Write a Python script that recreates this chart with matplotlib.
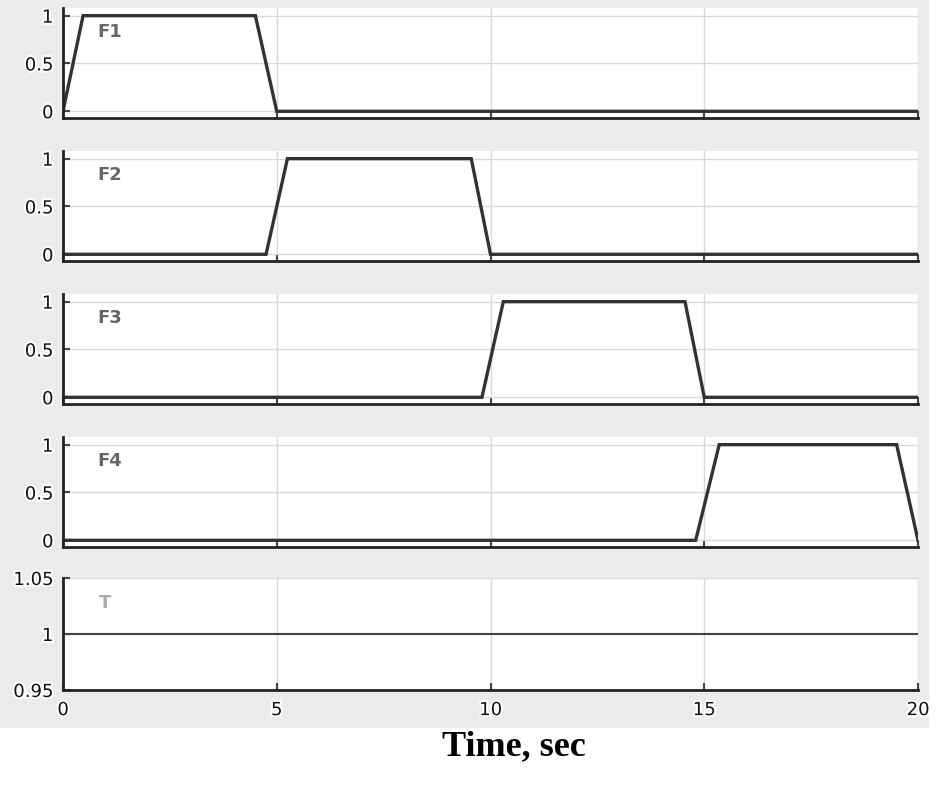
import matplotlib.pyplot as plt
import matplotlib.patheffects as pe
from matplotlib.patches import Rectangle

# signal data
t_f1 = [0, 0.47, 4.5, 5.0, 20]
f1 = [0, 1, 1, 0, 0]
t_f2 = [0, 4.75, 5.25, 9.55, 10.0, 20]
f2 = [0, 0, 1, 1, 0, 0]
t_f3 = [0, 9.8, 10.3, 14.55, 15.0, 20]
f3 = [0, 0, 1, 1, 0, 0]
t_f4 = [0, 14.8, 15.35, 19.5, 20]
f4 = [0, 0, 1, 1, 0]
t_T = [0, 20]
T = [1, 1]

names = ['F1', 'F2', 'F3', 'F4', 'T']
times = [t_f1, t_f2, t_f3, t_f4, t_T]
values = [f1, f2, f3, f4, T]
xticks = [0, 5, 10, 15, 20]

W, H = 939, 785
fig = plt.figure(figsize=(W / 100, H / 100), dpi=100)
fig.patch.set_facecolor('white')
fig.patches.append(Rectangle((0, (H - 727) / H), 928 / W, 727 / H,
                             transform=fig.transFigure, color='#ebebeb', zorder=-10))

halo = [pe.withStroke(linewidth=3, foreground='white')]
tops = [8, 151, 294, 437, 578]
left, right = 63, 918

for i in range(5):
    top = tops[i]
    h = 112 if i == 4 else 110
    ax = fig.add_axes([left / W, (H - top - h) / H, (right - left) / W, h / H])
    ax.set_facecolor('white')
    if i < 4:
        ax.plot(times[i], values[i], color='#333333', lw=2.4, solid_joinstyle='miter')
        ax.set_ylim(-0.07, 1.08)
        ax.set_yticks([0, 0.5, 1])
        ax.set_yticklabels(['0', '0.5', '1'])
        ax.text(0.04, 0.78, names[i], transform=ax.transAxes, fontsize=13,
                color='#666666', va='center', fontweight='bold')
    else:
        ax.plot(times[i], values[i], color='#444444', lw=1.5)
        ax.set_ylim(0.95, 1.05)
        ax.set_yticks([0.95, 1, 1.05])
        ax.set_yticklabels(['0.95', '1', '1.05'])
        ax.text(0.042, 0.78, names[i], transform=ax.transAxes, fontsize=13,
                color='#aaaaaa', va='center', fontweight='bold')
    ax.set_xlim(0, 20)
    ax.set_xticks(xticks)
    ax.grid(True, color='#d9d9d9', lw=1)
    ax.set_axisbelow(True)
    for s in ['top', 'right']:
        ax.spines[s].set_visible(False)
    for s in ['left', 'bottom']:
        ax.spines[s].set_color('#222222')
        ax.spines[s].set_linewidth(2)
    ax.tick_params(direction='in', length=5, width=1.5, color='#444444',
                   labelsize=13, labelcolor='#111111')
    ax.tick_params(axis='y', pad=7)
    ax.tick_params(axis='x', pad=8)
    for lab in ax.get_yticklabels():
        lab.set_path_effects(halo)
    if i < 4:
        ax.set_xticklabels([])
    else:
        ax.set_xticklabels([str(x) for x in xticks])
        for lab in ax.get_xticklabels():
            lab.set_path_effects(halo)

fig.text(514 / W, (H - 747) / H, 'Time, sec', ha='center', va='center',
         fontsize=26, fontweight='bold', family='Liberation Serif')

fig.savefig('out.png', dpi=100)
